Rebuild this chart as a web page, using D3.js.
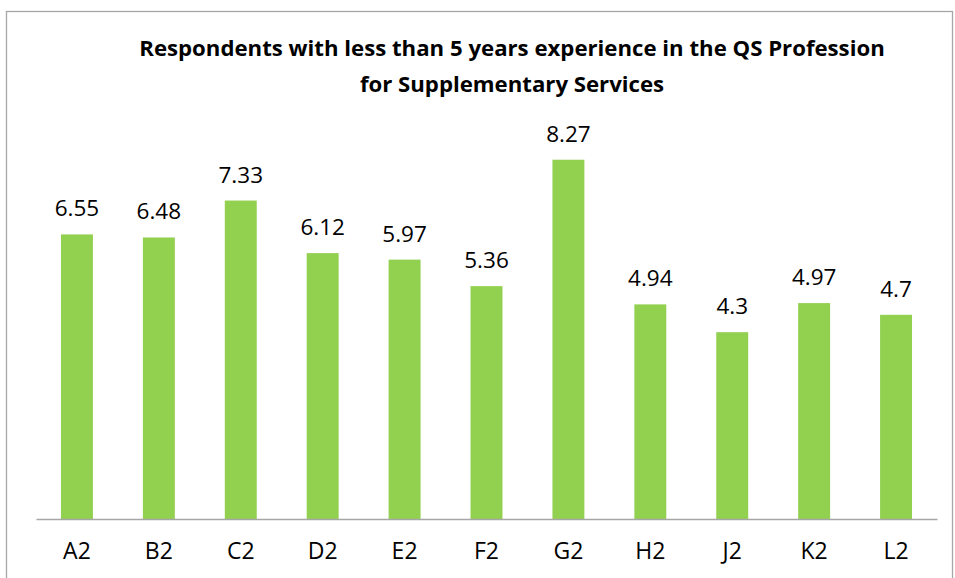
<!DOCTYPE html>
<html><head><meta charset="utf-8">
<script src="https://cdn.jsdelivr.net/npm/d3@7"></script>
<style>body{margin:0;background:#fff}svg{display:block}</style>
</head><body>
<script>
const categories = ["A2","B2","C2","D2","E2","F2","G2","H2","J2","K2","L2"];
const values = [6.55,6.48,7.33,6.12,5.97,5.36,8.27,4.94,4.3,4.97,4.7];
const titleLines = ["Respondents with less than 5 years experience in the QS Profession","for Supplementary Services"];

const W=955,H=578;
const svg=d3.select("body").append("svg").attr("width",W).attr("height",H);
svg.append("rect").attr("x",6.5).attr("y",11.5).attr("width",946).attr("height",580)
  .attr("fill","#fff").attr("stroke","#a6a6a6").attr("stroke-width",1.3);

const x=d3.scaleBand().domain(categories).range([36,937]).paddingInner(0.61).paddingOuter(0.305);
const y=d3.scaleLinear().domain([0,9]).range([519,128]);

svg.selectAll("rect.bar").data(values).join("rect").attr("class","bar")
  .attr("x",(d,i)=>x(categories[i])).attr("width",x.bandwidth())
  .attr("y",d=>y(d)).attr("height",d=>y(0)-y(d)).attr("fill","#92D050");

const ax=svg.append("g").attr("transform","translate(0,519)").call(d3.axisBottom(x).tickSize(0).tickPadding(0));
ax.select(".domain").attr("stroke","#a6a6a6").attr("stroke-width",1.3);
ax.selectAll("text").attr("dy",null).attr("y",40).attr("font-family","Open Sans").attr("font-size","23px").attr("fill","#000");

svg.selectAll("text.val").data(values).join("text").attr("class","val")
  .attr("x",(d,i)=>x(categories[i])+x.bandwidth()/2).attr("y",d=>y(d)-18)
  .attr("text-anchor","middle").attr("font-family","Open Sans").attr("font-size","22.5px").attr("fill","#000")
  .text(d=>d);

svg.selectAll("text.title").data(titleLines).join("text").attr("class","title")
  .attr("x",512).attr("y",(d,i)=>56+i*36).attr("text-anchor","middle")
  .attr("font-family","Open Sans").attr("font-weight","bold").attr("font-size","22.2px").attr("fill","#000")
  .text(d=>d);
</script>
</body></html>
